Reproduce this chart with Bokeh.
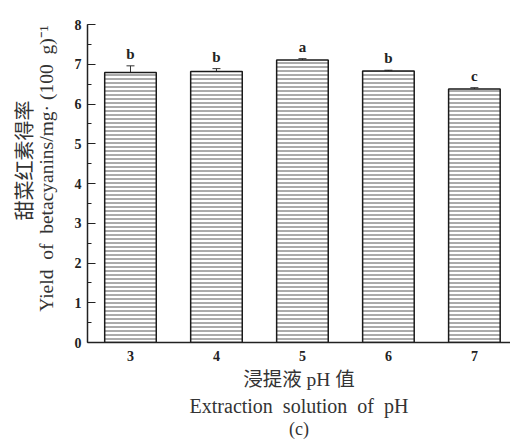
import math
from bokeh.plotting import figure
from bokeh.models import ColumnDataSource, Whisker, Title, FixedTicker, SingleIntervalTicker, Range1d
from bokeh.core.properties import value
from bokeh.embed import file_html
from bokeh.resources import INLINE

# ---- data ----
ph_values = [3, 4, 5, 6, 7]
tick_labels = ["3", "4", "5", "6", "7"]
yields = [6.79, 6.82, 7.11, 6.83, 6.38]
errors = [0.17, 0.07, 0.03, 0.02, 0.03]
letters = ["b", "b", "a", "b", "c"]

NB = "\u00a0"
y_title_cn = "甜菜红素得率"
y_title_en = f"Yield{NB}{NB}of{NB}{NB}betacyanins/mg·{NB}(100{NB}{NB}g)\u207b\u00b9"
x_title_cn = f"浸提液{NB}pH{NB}值"
x_title_en = f"Extraction{NB}{NB}solution{NB}{NB}of{NB}{NB}pH"
panel_tag = "(c)"

upper = [y + e for y, e in zip(yields, errors)]
lower = [y - e for y, e in zip(yields, errors)]

src = ColumnDataSource(dict(x=ph_values, top=yields, upper=upper, lower=lower, letter=letters))

SERIF = "Liberation Serif"
CJK = "Noto Sans CJK SC"
MIXED = "'Liberation Serif', 'Noto Sans CJK SC'"
TXT = "#222222"

p = figure(width=510, height=443, output_backend="svg", toolbar_location=None,
           x_range=Range1d(2.5, 7.42), y_range=Range1d(0, 8),
           min_border_left=87, min_border_right=0, min_border_top=24, min_border_bottom=101)
p.outline_line_color = None
p.xgrid.grid_line_color = None
p.ygrid.grid_line_color = None
p.background_fill_color = "white"
p.border_fill_color = "white"

p.vbar(x="x", top="top", bottom=0, width=0.6, source=src,
       fill_color="white", line_color="#1a1a1a", line_width=1.5,
       hatch_pattern="horizontal_line", hatch_scale=4, hatch_weight=1, hatch_color="#555555")

wh = Whisker(base="x", upper="upper", lower="lower", source=src,
             line_color="#333333", line_width=1)
wh.upper_head.size = 8
wh.lower_head.size = 8
wh.upper_head.line_color = "#333333"
wh.lower_head.line_color = "#333333"
p.add_layout(wh)

p.text(x="x", y="upper", text="letter", source=src, text_align="center", text_baseline="bottom",
       y_offset=-4, text_font=value(SERIF), text_font_style="bold", text_font_size="15px",
       text_color=TXT)

# axes
xa = p.xaxis[0]
xa.ticker = FixedTicker(ticks=ph_values)
xa.major_label_overrides = {v: t for v, t in zip(ph_values, tick_labels)}
xa.major_tick_in = 0
xa.major_tick_out = 0
xa.minor_tick_line_color = None
xa.major_label_standoff = 8
xa.axis_line_width = 1.5
xa.axis_line_color = "#222222"
xa.major_label_text_font = SERIF
xa.major_label_text_font_style = "bold"
xa.major_label_text_font_size = "14px"
xa.major_label_text_color = TXT

ya = p.yaxis[0]
ya.ticker = SingleIntervalTicker(interval=1, num_minor_ticks=2)
ya.major_tick_in = 8
ya.major_tick_out = 0
ya.minor_tick_in = 4
ya.minor_tick_out = 0
ya.major_tick_line_color = "#222222"
ya.minor_tick_line_color = "#222222"
ya.major_tick_line_width = 1.2
ya.minor_tick_line_width = 1.2
ya.major_label_standoff = 6
ya.axis_line_width = 1.5
ya.axis_line_color = "#222222"
ya.major_label_text_font = SERIF
ya.major_label_text_font_style = "bold"
ya.major_label_text_font_size = "14px"
ya.major_label_text_color = TXT
# blank spacer label to open a gap between tick labels and the axis titles
ya.axis_label = NB
ya.axis_label_text_font_size = "1px"
ya.axis_label_standoff = 11

# axis titles as side-panel titles (first added sits nearest the frame)
def ttl(text, side, font, size, align="center", offset=0, standoff=0):
    p.add_layout(Title(text=text, align=align, offset=offset, standoff=standoff,
                       text_font=font, text_font_size=size, text_font_style="normal",
                       text_color="#333333"), side)

ttl(y_title_en, "left", SERIF, "19.5px", align="right", offset=1, standoff=0)
ttl(y_title_cn, "left", CJK, "20px", align="right", offset=76, standoff=-8)
ttl(x_title_cn, "below", MIXED, "19.5px", standoff=6)
ttl(x_title_en, "below", SERIF, "20px", standoff=0)
ttl(panel_tag, "below", SERIF, "18px", standoff=0)

open("out.html", "w").write(file_html(p, INLINE))
